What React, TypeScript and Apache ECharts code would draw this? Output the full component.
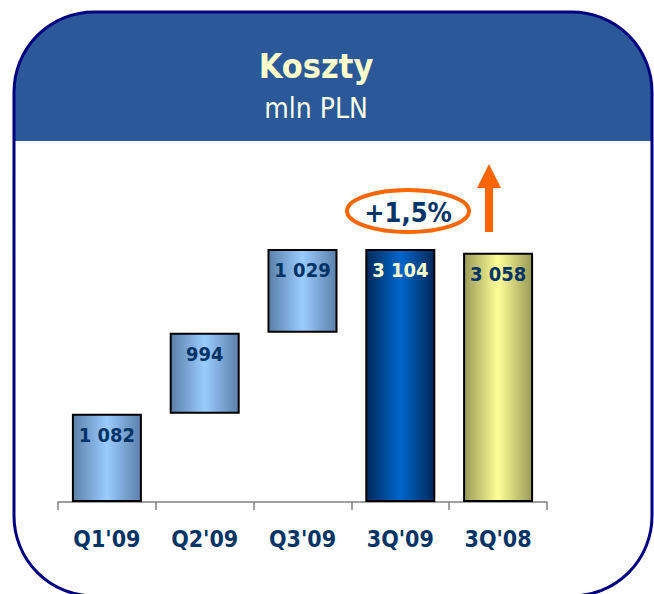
import React, { useEffect, useRef } from "react";
import * as echarts from "echarts";

const categories = ["Q1'09", "Q2'09", "Q3'09", "3Q'09", "3Q'08"];
const values = [1082, 994, 1029, 3104, 3058];
const isStep = [true, true, true, false, false];
const changeLabel = "+1,5%";
const titleText = "Koszty";
const subtitleText = "mln PLN";

const FONT = "'DejaVu Sans Condensed', 'DejaVu Sans', Tahoma, sans-serif";
const NAVY = "#003366";

function fmt(v: number): string {
  return String(v).replace(/\B(?=(\d{3})+(?!\d))/g, " ");
}

function grad(edge: string, mid: string) {
  return new echarts.graphic.LinearGradient(0, 0, 1, 0, [
    { offset: 0, color: edge },
    { offset: 0.5, color: mid },
    { offset: 1, color: edge },
  ]);
}

export default function App() {
  const ref = useRef<HTMLDivElement>(null);
  useEffect(() => {
    if (!ref.current) return;
    const chart = echarts.init(ref.current, null, { renderer: "svg" });

    // waterfall bases
    const bases: number[] = [];
    let acc = 0;
    values.forEach((v, i) => {
      if (isStep[i]) {
        bases.push(acc);
        acc += v;
      } else {
        bases.push(0);
      }
    });

    const fills = [
      grad("#5B80AA", "#9ACCFF"),
      grad("#5B80AA", "#9ACCFF"),
      grad("#5B80AA", "#9ACCFF"),
      grad("#00295A", "#0066CC"),
      grad("#9A9A58", "#FFFF99"),
    ];
    const labelColors = [NAVY, NAVY, NAVY, "#FFFFCC", NAVY];

    chart.setOption({
      animation: false,
      grid: { left: 58, right: 107, top: 176, bottom: 92 },
      xAxis: {
        type: "category",
        data: categories,
        axisLine: { lineStyle: { color: "#808080", width: 1.5 } },
        axisTick: { show: true, length: 8, lineStyle: { color: "#808080", width: 1.5 } },
        axisLabel: {
          margin: 25,
          color: NAVY,
          fontFamily: FONT,
          fontWeight: "bold",
          fontSize: 23,
        },
      },
      yAxis: { type: "value", min: 0, max: 4000, show: false },
      series: [
        {
          type: "bar",
          stack: "w",
          data: bases,
          barWidth: 70,
          itemStyle: { color: "transparent" },
          silent: true,
        },
        {
          type: "bar",
          stack: "w",
          barWidth: 70,
          data: values.map((v, i) => ({
            value: v,
            itemStyle: { color: fills[i], borderColor: "#000000", borderWidth: 2 },
            label: { color: labelColors[i] },
          })),
          label: {
            show: true,
            position: "insideTop",
            distance: 11,
            fontFamily: FONT,
            fontWeight: "bold",
            fontSize: 20,
            formatter: (p: any) => fmt(p.value),
          },
        },
      ],
      graphic: [
        {
          type: "rect",
          z: -1,
          shape: { x: 14, y: 12, width: 638, height: 129, r: [80, 80, 0, 0] },
          style: { fill: "#2A5898" },
        },
        {
          type: "rect",
          z: 10,
          shape: { x: 14, y: 12, width: 638, height: 584, r: 80 },
          style: { fill: "none", stroke: "#000080", lineWidth: 3 },
        },
        {
          type: "text",
          x: 316,
          y: 66,
          style: {
            text: titleText,
            fill: "#FFFFCC",
            font: `bold 34px ${FONT}`,
            align: "center",
            verticalAlign: "middle",
          },
        },
        {
          type: "text",
          x: 316,
          y: 108,
          style: {
            text: subtitleText,
            fill: "#FFFFE6",
            font: `28px ${FONT}`,
            align: "center",
            verticalAlign: "middle",
          },
        },
        {
          type: "ellipse",
          shape: { cx: 408, cy: 211, rx: 61, ry: 21 },
          style: { fill: "#FFFFFF", stroke: "#FF6600", lineWidth: 4 },
        },
        {
          type: "text",
          x: 408,
          y: 212,
          style: {
            text: changeLabel,
            fill: NAVY,
            font: `bold 27px ${FONT}`,
            align: "center",
            verticalAlign: "middle",
          },
        },
        {
          type: "polygon",
          shape: {
            points: [
              [477, 188],
              [489, 164],
              [501, 188],
              [493, 188],
              [493, 232],
              [485, 232],
              [485, 188],
            ],
          },
          style: { fill: "#FF6600" },
        },
      ],
    });
    return () => chart.dispose();
  }, []);
  return (
    <div
      ref={ref}
      style={{ position: "absolute", left: 0, top: 0, width: 654, height: 594, background: "#FFFFFF" }}
    />
  );
}
